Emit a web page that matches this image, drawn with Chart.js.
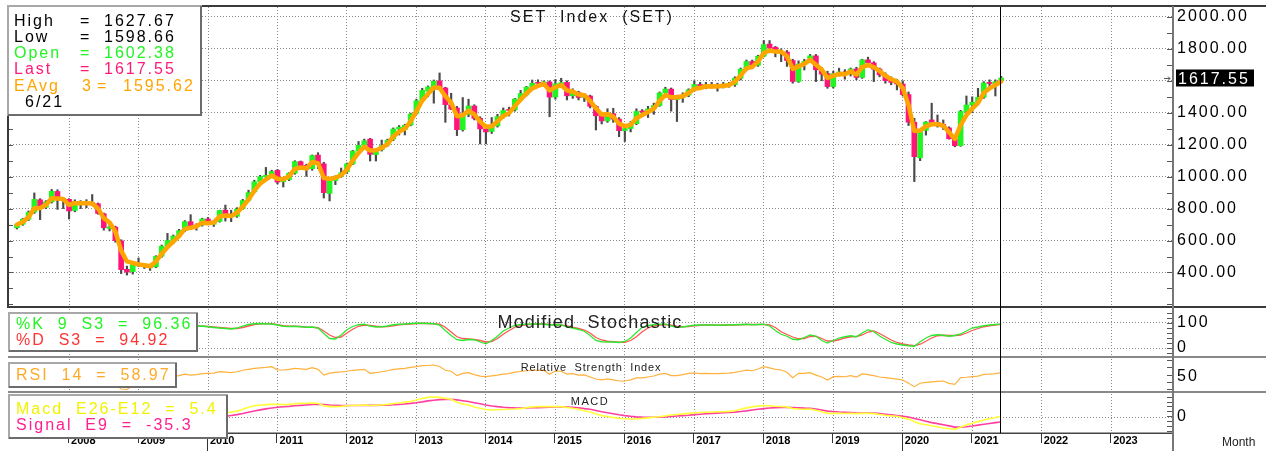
<!DOCTYPE html>
<html><head><meta charset="utf-8">
<script src="https://cdn.jsdelivr.net/npm/chart.js@4.4.1/dist/chart.umd.min.js"></script>
<style>
html,body{margin:0;padding:0;background:#fff;}
#wrap{position:relative;width:1266px;height:451px;overflow:hidden;background:#fff;}
.pane{position:absolute;left:0;width:1266px;}
</style></head><body>
<div id="wrap">
<div class="pane" style="top:0;height:308px"><canvas id="cMain"></canvas></div>
<div class="pane" style="top:308px;height:50px"><canvas id="cSto"></canvas></div>
<div class="pane" style="top:358px;height:35px"><canvas id="cRsi"></canvas></div>
<div class="pane" style="top:393px;height:58px"><canvas id="cMacd"></canvas></div>
</div>
<script>
// ---------------- DATA (monthly) ----------------
const months = [
 '2007-04','2007-05','2007-06','2007-07','2007-08','2007-09','2007-10','2007-11','2007-12',
 '2008-01','2008-02','2008-03','2008-04','2008-05','2008-06','2008-07','2008-08','2008-09','2008-10','2008-11','2008-12',
 '2009-01','2009-02','2009-03','2009-04','2009-05','2009-06','2009-07','2009-08','2009-09','2009-10','2009-11','2009-12',
 '2010-01','2010-02','2010-03','2010-04','2010-05','2010-06','2010-07','2010-08','2010-09','2010-10','2010-11','2010-12',
 '2011-01','2011-02','2011-03','2011-04','2011-05','2011-06','2011-07','2011-08','2011-09','2011-10','2011-11','2011-12',
 '2012-01','2012-02','2012-03','2012-04','2012-05','2012-06','2012-07','2012-08','2012-09','2012-10','2012-11','2012-12',
 '2013-01','2013-02','2013-03','2013-04','2013-05','2013-06','2013-07','2013-08','2013-09','2013-10','2013-11','2013-12',
 '2014-01','2014-02','2014-03','2014-04','2014-05','2014-06','2014-07','2014-08','2014-09','2014-10','2014-11','2014-12',
 '2015-01','2015-02','2015-03','2015-04','2015-05','2015-06','2015-07','2015-08','2015-09','2015-10','2015-11','2015-12',
 '2016-01','2016-02','2016-03','2016-04','2016-05','2016-06','2016-07','2016-08','2016-09','2016-10','2016-11','2016-12',
 '2017-01','2017-02','2017-03','2017-04','2017-05','2017-06','2017-07','2017-08','2017-09','2017-10','2017-11','2017-12',
 '2018-01','2018-02','2018-03','2018-04','2018-05','2018-06','2018-07','2018-08','2018-09','2018-10','2018-11','2018-12',
 '2019-01','2019-02','2019-03','2019-04','2019-05','2019-06','2019-07','2019-08','2019-09','2019-10','2019-11','2019-12',
 '2020-01','2020-02','2020-03','2020-04','2020-05','2020-06','2020-07','2020-08','2020-09','2020-10','2020-11','2020-12',
 '2021-01','2021-02','2021-03','2021-04','2021-05','2021-06'
];
const open = [
 680,702,733,778,855,808,842,907,860,
 858,788,845,832,836,830,768,676,684,598,420,405,
 450,442,438,435,502,565,598,628,662,718,688,698,
 735,702,720,790,765,752,800,852,905,968,1000,1005,
 1040,968,982,1022,1094,1070,1050,1135,1080,895,975,1000,
 1030,1080,1160,1196,1235,1138,1168,1198,1236,1298,1295,1323,
 1396,1480,1535,1555,1600,1555,1450,1430,1294,1390,1442,1365,
 1299,1283,1318,1376,1420,1418,1486,1512,1560,1585,1578,1593,
 1498,1582,1590,1506,1526,1496,1505,1440,1381,1349,1394,1360,
 1288,1301,1332,1408,1405,1424,1445,1524,1548,1483,1496,1510,
 1543,1577,1560,1575,1566,1562,1575,1576,1616,1673,1721,1697,
 1754,1830,1810,1776,1780,1727,1596,1705,1722,1756,1662,1645,
 1564,1645,1655,1645,1674,1621,1731,1712,1673,1637,1601,1590,
 1580,1514,1341,1118,1290,1355,1340,1328,1305,1237,1194,1408,
 1449,1466,1497,1590,1583,1602.38
];
const high = [
 705,738,785,898,862,850,920,918,868,
 862,855,850,856,888,835,772,700,690,605,440,458,
 491,455,452,505,572,645,635,670,725,762,705,740,
 745,722,790,822,790,806,858,915,978,1008,1058,1040,
 1045,995,1025,1100,1098,1078,1136,1150,1090,985,1005,1054,
 1085,1165,1220,1235,1240,1172,1229,1235,1305,1320,1328,1398,
 1485,1553,1568,1605,1649,1560,1522,1440,1495,1485,1450,1375,
 1320,1370,1390,1430,1435,1490,1540,1565,1605,1606,1600,1600,
 1608,1616,1600,1550,1535,1520,1510,1445,1400,1425,1428,1370,
 1310,1345,1425,1420,1440,1460,1530,1560,1555,1510,1525,1550,
 1600,1590,1590,1590,1585,1590,1590,1625,1680,1730,1730,1760,
 1852,1852,1815,1800,1790,1735,1725,1735,1765,1765,1680,1660,
 1660,1679,1670,1680,1685,1735,1748,1720,1680,1650,1625,1610,
 1600,1530,1365,1290,1345,1460,1386,1355,1312,1255,1415,1505,
 1500,1553,1595,1606,1606,1627.67
];
const low = [
 672,695,725,770,731,800,835,795,800,
 735,780,800,805,820,765,665,660,590,393,384,390,
 438,425,413,430,495,555,580,618,655,668,665,690,
 700,688,715,722,718,745,795,845,900,960,993,998,
 955,935,975,1015,1050,1002,1040,1050,866,848,950,995,
 1020,1075,1150,1185,1098,1098,1160,1190,1225,1261,1261,1318,
 1390,1475,1500,1460,1550,1340,1420,1257,1285,1375,1355,1205,
 1205,1270,1310,1365,1380,1410,1475,1505,1550,1560,1565,1375,
 1485,1560,1480,1490,1480,1470,1430,1292,1330,1340,1340,1250,
 1220,1280,1325,1375,1370,1390,1440,1500,1410,1345,1465,1500,
 1535,1550,1550,1555,1535,1555,1560,1565,1605,1665,1675,1690,
 1750,1775,1750,1720,1690,1585,1590,1668,1715,1595,1600,1553,
 1555,1630,1610,1630,1606,1615,1695,1595,1625,1585,1575,1543,
 1505,1320,969,1100,1260,1320,1310,1295,1235,1187,1190,1395,
 1400,1450,1490,1553,1505,1598.66
];
const close = [
 700,733,776,858,805,842,908,860,858,
 785,845,832,835,830,770,680,686,600,418,402,450,
 442,440,432,500,565,600,628,662,718,688,696,735,
 706,718,788,762,750,797,850,900,968,1000,1008,1032,
 966,980,1022,1094,1066,1045,1132,1076,900,980,1000,1025,
 1080,1160,1196,1225,1140,1167,1194,1228,1298,1310,1322,1392,
 1475,1540,1561,1598,1555,1451,1423,1294,1390,1442,1365,1299,
 1280,1318,1376,1414,1415,1486,1520,1560,1585,1584,1593,1498,
 1581,1587,1506,1526,1496,1505,1440,1381,1349,1394,1360,1288,
 1301,1332,1408,1405,1424,1445,1524,1548,1483,1496,1510,1543,
 1577,1560,1575,1566,1562,1575,1576,1616,1673,1721,1697,1754,
 1827,1805,1776,1780,1727,1596,1705,1722,1756,1669,1642,1564,
 1645,1655,1639,1674,1621,1731,1712,1673,1637,1601,1590,1580,
 1514,1341,1125,1290,1342,1340,1328,1311,1237,1194,1408,1449,
 1466,1497,1587,1583,1594,1617.55
];
const ema3 = [
 700,716.5,746.3,802.1,803.6,822.8,865.4,862.7,860.3,
 822.7,833.8,832.9,834.0,832.0,801.0,740.5,713.3,656.6,537.3,469.7,459.8,
 450.9,445.5,438.7,469.4,517.2,558.6,593.3,627.7,672.8,680.4,688.2,711.6,
 708.8,713.4,750.7,756.4,753.2,775.1,812.5,856.3,912.1,956.1,982.0,1007.0,
 986.5,983.3,1002.6,1048.3,1057.2,1051.1,1091.5,1083.8,991.9,985.9,993.0,1009.0,
 1044.5,1102.3,1149.1,1187.1,1163.5,1165.3,1179.6,1203.8,1250.9,1280.5,1301.2,1346.6,
 1410.8,1475.4,1518.2,1558.1,1556.6,1503.8,1463.4,1378.7,1384.3,1413.2,1389.1,1344.1,
 1312.0,1315.0,1345.5,1379.8,1397.4,1441.7,1480.9,1520.4,1552.7,1568.4,1580.7,1539.4,
 1560.2,1573.6,1539.8,1532.9,1514.5,1509.7,1474.9,1428.0,1388.5,1391.3,1375.6,1331.8,
 1316.4,1324.2,1366.1,1385.6,1404.8,1424.9,1474.5,1511.2,1497.1,1496.6,1503.3,1523.2,
 1550.1,1555.0,1565.0,1565.5,1563.8,1569.4,1572.7,1594.4,1633.7,1677.3,1687.2,1720.6,
 1773.8,1789.4,1782.7,1781.4,1754.2,1675.1,1690.0,1706.0,1731.0,1700.0,1671.0,1617.5,
 1631.3,1643.1,1641.1,1657.5,1639.3,1685.1,1698.6,1685.8,1661.4,1631.2,1610.6,1595.3,
 1554.6,1447.8,1286.4,1288.2,1315.1,1327.6,1327.8,1319.4,1278.2,1236.1,1322.1,1385.5,
 1425.8,1461.4,1524.2,1553.6,1573.69,1595.62
];
const stochK = [
 60,75,85,90,80,78,85,80,75,
 65,60,58,60,58,45,30,22,15,8,6,10,
 12,14,15,30,55,72,82,88,92,88,86,88,
 85,82,80,78,76,80,88,94,97,98,97,96,
 92,87,86,87,85,83,84,80,58,38,36,52,
 73,86,93,95,88,84,85,88,93,95,96,98,
 99,99,98,97,92,70,50,33,30,34,33,24,
 17,30,47,68,80,90,94,95,96,96,96,92,
 93,92,85,80,74,67,50,30,25,24,24,22,
 26,40,62,83,90,93,95,96,88,83,84,88,
 91,92,92,92,91,92,92,93,94,95,93,94,
 95,88,70,55,47,35,33,42,52,47,30,20,
 30,40,45,49,45,60,73,65,48,35,22,16,
 12,9,7,25,40,50,53,51,47,50,56,68,
 80,84,89,92,94,96.36
];
const stochD = [
 55,65,75,84,85,82,81,81,80,
 72,65,61,60,59,53,42,31,22,14,9,8,
 10,12,14,20,35,55,72,82,88,89,88,87,
 86,84,82,80,78,78,82,88,94,97,97,97,
 93,89,87,87,86,84,83,81,68,52,42,44,
 60,75,87,92,90,87,85,86,89,93,95,96,
 98,99,98,97,95,83,64,45,38,36,34,30,
 24,26,38,55,70,83,90,93,95,96,96,94,
 93,92,88,83,78,72,60,42,32,27,25,23,
 23,30,45,65,80,88,92,94,91,87,85,86,
 89,91,92,92,91,91,92,92,93,94,94,94,
 94,92,82,65,54,44,37,38,46,47,38,28,
 28,33,40,45,46,52,64,68,58,45,32,22,
 16,12,9,15,27,40,49,51,50,50,52,60,
 70,78,85,89,92,94.92
];
const rsi = [
 60,62,65,70,63,65,70,62,62,
 55,58,56,56,55,48,40,41,35,25,24,32,
 31,31,30,38,45,49,51,53,56,54,55,57,
 57.6,58,61,60,59,61,64,66,68,69,70,71.5,
 65,64.6,66,68,67,66,69.4,66,54,58,59.7,60.5,
 62,64,65,66,57.6,59,61,63,66,67,68,70,
 71.5,73.5,74,75,72,64,62,52.8,57.6,59,55,52,
 50.7,52.5,54,56,57,60,61.5,63,64.6,64,64,55.6,
 62.5,62,56,57,54,54.5,50,45.8,44,46,44,41.7,
 41.7,44,48,48,50,52,56,57.6,53,52.8,55,57.6,
 58.5,57,57.6,57,57,57.6,58,59.7,62,64.5,63,66.7,
 71.5,69,66,64.6,60,48.6,57.6,57.6,59,54,50,43.8,
 50.7,51.5,50.5,52.8,50,56.3,55,52.8,50,48.6,47,45.5,
 43.8,36.8,29.9,37,38.9,40,41,41.7,36.8,34.7,48.6,49.5,
 50.7,52,55.6,56,57,58.97
];
const macd = [
 20,25,32,45,48,50,58,58,56,
 46,44,40,38,35,25,6,-6,-25,-58,-83,-95,
 -100,-104,-105,-95,-80,-62,-46,-30,-14,-4,4,14,
 18,20,28,33,35,42,55,70,80,85,88,90,
 90,88,90,95,97,98,100,98,80,74,74,76,
 80,82,84,86,82,84,86,90,96,100,106,110,
 121,132,140,143,140,133,126,105,92,85,72,62,
 54,50,52,54,55,57,60,66,72,74,75,74,
 74,74,68,62,54,45,36,22,10,4,-3,-10,
 -12,-14,-14,-10,-6,-2,2,8,14,18,22,26,
 30,32,34,36,37,38,40,45,55,65,72,78,
 81,80,77,75,72,60,57,55,57,48,38,26,
 26,26,25,26,24,26,27,24,18,12,8,5,
 -5,-15,-33,-48,-55,-62,-70,-78,-84,-88,-72,-57,
 -45,-33,-21,-12,-4,5.4
];
const signal = [
 15,18,22,28,33,37,42,46,48,
 47,47,45,44,42,38,32,24,14,0,-17,-32,
 -46,-58,-68,-73,-75,-72,-67,-60,-51,-42,-33,-24,
 -16,-9,-2,5,11,17,25,34,43,51,58,64,
 69,73,76,80,83,86,89,91,89,86,84,82,
 82,82,82,83,83,83,84,85,87,90,93,97,
 102,108,115,120,124,126,126,122,116,110,102,94,
 86,79,74,70,67,65,64,64,66,67,69,70,
 71,72,71,69,66,60,55,47,38,30,23,16,
 10,5,1,-1,-2,-2,-1,1,4,7,10,13,
 17,20,23,26,28,30,32,35,39,44,50,55,
 60,64,67,68,69,67,65,63,62,57,50,42,
 39,36,34,32,30,29,29,28,24,20,15,10,
 5,0,-10,-20,-30,-40,-47,-55,-63,-72,-72,-69,
 -64,-58,-52,-46,-40,-35.3
];
const priceTicks = [400, 600, 800, 1000, 1200, 1400, 1600, 1800, 2000];
const stochTicks = [0, 100];
const rsiTicks = [50];
const macdTicks = [0];

// ---------------- STYLE / LAYOUT ----------------
const FONT = "'Liberation Sans', Arial, sans-serif";
const GRID = '#8a8a8a';
const UP = '#22F522', DOWN = '#FF1478';
const X_MIN = 2007.15, X_MAX = 2023.89;
const LAST = close.length - 1;
const xs = months.map(m => { const p = m.split('-').map(Number); return p[0] + (p[1] - 1) / 12; });
const pts = arr => xs.map((x, i) => ({x, y: arr[i]}));

function xAxis(showLabels) {
  return {
    type: 'linear', min: X_MIN, max: X_MAX, offset: false,
    ticks: {
      stepSize: 1, includeBounds: false, display: showLabels, autoSkip: false,
      align: 'start', labelOffset: 2, padding: 1, color: '#000',
      font: {family: FONT, size: 11, weight: 'bold'},
      callback: v => String(v)
    },
    grid: {color: GRID, drawTicks: false, lineWidth: 1, offset: false},
    border: {display: false, dash: [1, 2]},
    afterFit: s => { s.height = showLabels ? 18 : 0; s.paddingLeft = 0; s.paddingRight = 0; }
  };
}
function yAxis(min, max, tickVals, fmt, gridLines, hideTicks) {
  return {
    type: 'linear', position: 'right', min, max, offset: false,
    afterBuildTicks: s => { s.ticks = tickVals.map(v => ({value: v})); },
    ticks: {padding: 4, color: '#000', autoSkip: false,
      font: {family: FONT, size: 16}, callback: fmt},
    grid: {color: gridLines, drawTicks: false, lineWidth: 1},
    border: {display: false, dash: [1, 2]},
    afterFit: s => { s.width = 93; s.paddingTop = 0; s.paddingBottom = 0; }
  };
}
function baseOptions(pad, scales) {
  return {
    responsive: true, maintainAspectRatio: false, animation: false, events: [],
    layout: {padding: pad},
    plugins: {legend: {display: false}, tooltip: {enabled: false}, title: {display: false}},
    scales
  };
}
function txt(ctx, s, x, y, color, size, spacing, align, weight) {
  ctx.save();
  ctx.font = (weight || '') + ' ' + size + 'px ' + FONT;
  ctx.letterSpacing = spacing + 'px';
  ctx.fillStyle = color; ctx.textAlign = align || 'left'; ctx.textBaseline = 'alphabetic';
  ctx.fillText(s, x, y);
  ctx.restore();
}
function box(ctx, x1, y1, x2, y2) {
  ctx.save();
  ctx.fillStyle = '#fff'; ctx.fillRect(x1, y1, x2 - x1, y2 - y1);
  ctx.lineWidth = 2; ctx.strokeStyle = '#a8a8a8';
  ctx.strokeRect(x1 + 1, y1 + 1, x2 - x1 - 2, y2 - y1 - 2);
  ctx.strokeStyle = '#6c6c6c'; ctx.beginPath();
  ctx.moveTo(x2 - 1, y1 + 1); ctx.lineTo(x2 - 1, y2 - 1); ctx.lineTo(x1 + 1, y2 - 1); ctx.stroke();
  ctx.restore();
}
function sideTicks(ctx, scale, from, to, step, x1, x2) {
  ctx.save(); ctx.strokeStyle = '#555'; ctx.lineWidth = 1; ctx.beginPath();
  for (let v = from; v <= to; v += step) {
    const y = Math.round(scale.getPixelForValue(v)) + 0.5;
    if (y < scale.top || y > scale.bottom) continue;
    ctx.moveTo(x1, y); ctx.lineTo(x2, y);
  }
  ctx.stroke(); ctx.restore();
}
function vline(ctx, x, y1, y2, color, w) {
  ctx.save(); ctx.strokeStyle = color; ctx.lineWidth = w; ctx.beginPath();
  ctx.moveTo(x, y1); ctx.lineTo(x, y2); ctx.stroke(); ctx.restore();
}
function makePlugin(spacing, draw) {
  return {
    id: 'panel',
    beforeDraw(chart) { chart.ctx.letterSpacing = spacing; },
    afterDraw(chart) { draw(chart, chart.ctx); }
  };
}
function cursorX(chart) { return Math.round(chart.scales.x.getPixelForValue(xs[LAST])) - 0.5; }

// ---------------- MAIN PRICE PANEL ----------------
const bodyColors = close.map((c, i) => c >= open[i] ? UP : DOWN);
new Chart(document.getElementById('cMain'), {
  type: 'bar',
  data: {datasets: [
    {type: 'line', label: 'EAvg 3', data: pts(ema3), borderColor: '#FFA500', borderWidth: 4.5,
     pointRadius: 0, tension: 0, order: 0, borderJoinStyle: 'round', borderCapStyle: 'round'},
    {label: 'Body', data: xs.map((x, i) => ({x, y: [open[i], close[i]]})), backgroundColor: bodyColors,
     barThickness: 5, grouped: false, minBarLength: 1, order: 1},
    {label: 'Wick', data: xs.map((x, i) => ({x, y: [low[i], high[i]]})), backgroundColor: '#4a4a4a',
     barThickness: 1.5, grouped: false, order: 2}
  ]},
  options: baseOptions({left: 10, right: 0, top: 7, bottom: 1}, {
    x: xAxis(false),
    y: yAxis(184, 2062, priceTicks, v => v === 1600 ? '' : v.toFixed(2), GRID)
  }),
  plugins: [makePlugin('2px', (chart, ctx) => {
    const ys = chart.scales.y;
    ctx.save();
    ctx.fillStyle = '#3a3a3a';
    ctx.fillRect(7, 5, 1259, 2);
    ctx.fillRect(7, 5, 2, 303);
    ctx.fillRect(7, 306, 1259, 2);
    ctx.fillStyle = '#777';
    ctx.fillRect(1172, 6, 2, 302);
    ctx.restore();
    sideTicks(ctx, ys, 200, 2000, 100, 9, 13);
    sideTicks(ctx, ys, 200, 2000, 100, 1167, 1172);
    const cx = cursorX(chart);
    vline(ctx, cx, 7, 308, '#000', 1);
    txt(ctx, 'SET  Index  (SET)', 592, 22, '#111', 16, 2, 'center');
    // legend
    box(ctx, 7, 5, 202, 116);
    const rows = [
      ['High', '#000', high[LAST].toFixed(2), 26],
      ['Low', '#000', low[LAST].toFixed(2), 42],
      ['Open', '#22F522', open[LAST].toFixed(2), 58],
      ['Last', '#FF1A75', close[LAST].toFixed(2), 74]
    ];
    rows.forEach(r => {
      txt(ctx, r[0], 14, r[3], r[1], 16, 2);
      txt(ctx, '=', 80, r[3], r[1], 16, 2);
      txt(ctx, r[2], 104, r[3], r[1], 16, 2);
    });
    txt(ctx, 'EAvg', 14, 90.5, '#FFA500', 16, 2);
    txt(ctx, '3', 82, 90.5, '#FFA500', 16, 2);
    txt(ctx, '=', 97, 90.5, '#FFA500', 16, 2);
    txt(ctx, ema3[LAST].toFixed(2), 123, 90.5, '#FFA500', 16, 2);
    const mp = months[LAST].split('-');
    txt(ctx, (+mp[1]) + '/' + mp[0].slice(2), 25, 107, '#000', 16, 2);
    // last price tag
    const py = ys.getPixelForValue(close[LAST]);
    ctx.save();
    ctx.fillStyle = '#000'; ctx.fillRect(1176, py - 8.5, 78, 17);
    ctx.strokeStyle = '#555'; ctx.lineWidth = 1; ctx.beginPath();
    ctx.moveTo(1164, py + 0.5); ctx.lineTo(1170, py + 0.5);
    ctx.moveTo(1168, py - 1.5); ctx.lineTo(1170, py + 0.5); ctx.lineTo(1168, py + 2.5); ctx.stroke();
    ctx.restore();
    txt(ctx, close[LAST].toFixed(2), 1178, py + 6, '#fff', 16, 2);
  })]
});

// ---------------- MODIFIED STOCHASTIC ----------------
new Chart(document.getElementById('cSto'), {
  type: 'line',
  data: {datasets: [
    {label: '%K', data: pts(stochK), borderColor: '#2EE82E', borderWidth: 1.3, pointRadius: 0, tension: 0, order: 0},
    {label: '%D', data: pts(stochD), borderColor: '#FF5555', borderWidth: 1.3, pointRadius: 0, tension: 0, order: 1}
  ]},
  options: baseOptions({left: 10, right: 0, top: 1, bottom: 1}, {
    x: xAxis(false),
    y: yAxis(-36, 156, stochTicks, v => String(v), GRID)
  }),
  plugins: [makePlugin('2px', (chart, ctx) => {
    ctx.save();
    ctx.fillStyle = '#888'; ctx.fillRect(8, 48, 1258, 2);
    ctx.fillStyle = '#777'; ctx.fillRect(1172, 0, 2, 50);
    ctx.restore();
    sideTicks(ctx, chart.scales.y, -20, 140, 20, 1167, 1172);
    vline(ctx, cursorX(chart), 0, 50, '#000', 1);
    txt(ctx, 'Modified  Stochastic', 590, 20, '#222', 18, 1.2, 'center');
    box(ctx, 8, 4, 198, 44);
    txt(ctx, '%K  9  S3  =  ' + stochK[LAST].toFixed(2), 16, 21, '#22F522', 16, 2);
    txt(ctx, '%D  S3  =  ' + stochD[LAST].toFixed(2), 16, 37, '#FF3333', 16, 2);
  })]
});

// ---------------- RSI ----------------
new Chart(document.getElementById('cRsi'), {
  type: 'line',
  data: {datasets: [
    {label: 'RSI 14', data: pts(rsi), borderColor: '#FFB13D', borderWidth: 1.2, pointRadius: 0, tension: 0}
  ]},
  options: baseOptions({left: 10, right: 0, top: 1, bottom: 1}, {
    x: xAxis(false),
    y: yAxis(18.75, 87.5, rsiTicks, v => String(v), 'rgba(0,0,0,0)')
  }),
  plugins: [makePlugin('2px', (chart, ctx) => {
    ctx.save();
    ctx.fillStyle = '#888'; ctx.fillRect(8, 33, 1258, 2);
    ctx.fillStyle = '#777'; ctx.fillRect(1172, 0, 2, 35);
    ctx.restore();
    sideTicks(ctx, chart.scales.y, 25, 85, 15, 1167, 1172);
    vline(ctx, cursorX(chart), 0, 35, '#000', 1);
    txt(ctx, 'Relative  Strength  Index', 591, 13, '#222', 11, 0.8, 'center');
    box(ctx, 8, 4, 177, 30);
    txt(ctx, 'RSI  14  =  ' + rsi[LAST].toFixed(2), 16, 22, '#FFAA2A', 16, 2);
  })]
});

// ---------------- MACD ----------------
new Chart(document.getElementById('cMacd'), {
  type: 'line',
  data: {datasets: [
    {label: 'Macd', data: pts(macd), borderColor: '#FFFF3A', borderWidth: 1.6, pointRadius: 0, tension: 0, order: 0},
    {label: 'Signal', data: pts(signal), borderColor: '#FF40A0', borderWidth: 1.6, pointRadius: 0, tension: 0, order: 1}
  ]},
  options: baseOptions({left: 10, right: 0, top: 1, bottom: 0}, {
    x: xAxis(true),
    y: yAxis(-114, 164, macdTicks, v => String(v), GRID)
  }),
  plugins: [makePlugin('0px', (chart, ctx) => {
    const xsc = chart.scales.x;
    ctx.save();
    ctx.fillStyle = '#444'; ctx.fillRect(8, 39.5, 1165, 1.5);
    ctx.fillStyle = '#777'; ctx.fillRect(1172, 0, 2, 58);
    ctx.restore();
    sideTicks(ctx, chart.scales.y, -100, 150, 35, 1167, 1172);
    vline(ctx, cursorX(chart), 0, 40, '#000', 1);
    xsc.ticks.forEach(t => {
      const px = Math.round(xsc.getPixelForValue(t.value)) - 0.5;
      vline(ctx, px, 40, t.value % 10 === 0 ? 58 : 50, '#333', 1);
    });
    txt(ctx, 'MACD', 590, 12, '#222', 11, 1.5, 'center');
    box(ctx, 8, 1, 228, 46);
    txt(ctx, 'Macd  E26-E12  =  ' + macd[LAST].toFixed(1), 16, 21, '#F2F200', 16, 2);
    txt(ctx, 'Signal  E9  =  ' + signal[LAST].toFixed(1), 16, 37, '#FF2090', 16, 2);
    txt(ctx, 'Month', 1222, 53, '#222', 12, 0);
  })]
});
</script>
</body></html>
